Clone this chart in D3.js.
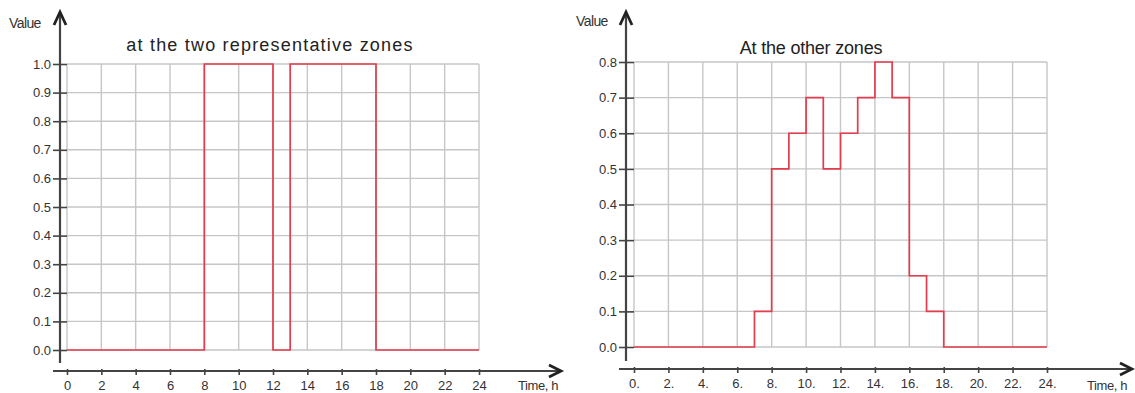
<!DOCTYPE html>
<html>
<head>
<meta charset="utf-8">
<script src="https://cdn.jsdelivr.net/npm/d3@7"></script>
<style>
  body { margin: 0; background: #fff; }
  svg { display: block; }
  text { font-family: "Liberation Sans", Arial, sans-serif; fill: #333; }
</style>
</head>
<body>
<div id="chart"></div>
<script>
// data (step functions, value holds until next hour)
var leftHours = [0, 8, 12, 13, 18, 24];
var leftValues = [0, 1, 0, 1, 0, 0];
var rightHours = [0, 7, 8, 9, 10, 11, 12, 13, 14, 15, 16, 17, 18, 24];
var rightValues = [0, 0.1, 0.5, 0.6, 0.7, 0.5, 0.6, 0.7, 0.8, 0.7, 0.2, 0.1, 0, 0];
var xTicks = [0, 2, 4, 6, 8, 10, 12, 14, 16, 18, 20, 22, 24];
var leftYTicks = [0, 0.1, 0.2, 0.3, 0.4, 0.5, 0.6, 0.7, 0.8, 0.9, 1.0];
var rightYTicks = [0, 0.1, 0.2, 0.3, 0.4, 0.5, 0.6, 0.7, 0.8];
var leftTitle = "at the two representative zones";
var rightTitle = "At the other zones";

var W = 1135, H = 393;
var svg = d3.select("#chart").append("svg").attr("width", W).attr("height", H);

var panels = [
  {hours: leftHours, values: leftValues, yTicks: leftYTicks, yMax: 1.0, title: leftTitle,
   x0: 67, x1: 479, y0: 350, y1: 64, axisX: 60, axisY: 371, arrowEnd: 561,
   titleX: 270, titleY: 51, titleSpacing: 1.2, titleSize: 18, valueX: 9, valueY: 28, timeX: 518, dot: ""},
  {hours: rightHours, values: rightValues, yTicks: rightYTicks, yMax: 0.8, title: rightTitle,
   x0: 634, x1: 1047, y0: 347, y1: 62, axisX: 626, axisY: 369, arrowEnd: 1132,
   titleX: 811, titleY: 54, titleSpacing: -0.2, titleSize: 18, valueX: 576, valueY: 26, timeX: 1087, dot: "."}
];

panels.forEach(function(p){
  var x = d3.scaleLinear().domain([0, 24]).range([p.x0, p.x1]);
  var y = d3.scaleLinear().domain([0, p.yMax]).range([p.y0, p.y1]);
  var g = svg.append("g");

  // grid
  g.selectAll(".vg").data(xTicks).enter().append("line")
    .attr("x1", function(d){ return x(d); }).attr("x2", function(d){ return x(d); })
    .attr("y1", p.y1).attr("y2", p.y0)
    .style("stroke", "#c6c6c6").style("stroke-width", 1.4);
  g.selectAll(".hg").data(p.yTicks).enter().append("line")
    .attr("x1", p.x0).attr("x2", p.x1)
    .attr("y1", function(d){ return y(d); }).attr("y2", function(d){ return y(d); })
    .style("stroke", "#c6c6c6").style("stroke-width", 1.4);

  // y axis with ticks
  var yAxis = d3.axisLeft(y).tickValues(p.yTicks).tickSize(p.x0 - p.axisX + 7)
    .tickFormat(d3.format(".1f")).tickPadding(2);
  var ya = g.append("g").attr("transform", "translate(" + p.x0 + ",0)").call(yAxis);
  ya.select(".domain").remove();
  ya.selectAll(".tick line").style("stroke", "#444").style("stroke-width", 1.6);
  ya.selectAll(".tick text").style("font-size", "13px").style("fill", "#333");

  g.append("line").attr("x1", p.axisX).attr("x2", p.axisX)
    .attr("y1", 13).attr("y2", p.axisY - 8)
    .style("stroke", "#444").style("stroke-width", 2.2);
  g.append("path")
    .attr("d", "M" + (p.axisX - 6) + ",25 L" + p.axisX + ",12 L" + (p.axisX + 6) + ",25")
    .style("fill", "none").style("stroke", "#222").style("stroke-width", 2.8);

  // x axis with ticks
  var xAxis = d3.axisBottom(x).tickValues(xTicks).tickSize(6)
    .tickFormat(function(d){ return d + p.dot; }).tickPadding(6);
  var xa = g.append("g").attr("transform", "translate(0," + (p.axisY - 2) + ")").call(xAxis);
  xa.select(".domain").remove();
  xa.selectAll(".tick line").style("stroke", "#444").style("stroke-width", 1.6);
  xa.selectAll(".tick text").style("font-size", "13px").style("fill", "#333");

  g.append("line").attr("x1", p.axisX - 7).attr("x2", p.arrowEnd)
    .attr("y1", p.axisY).attr("y2", p.axisY)
    .style("stroke", "#444").style("stroke-width", 2.2);
  g.append("path")
    .attr("d", "M" + (p.arrowEnd - 12) + "," + (p.axisY - 6) + " L" + p.arrowEnd + "," + p.axisY +
      " L" + (p.arrowEnd - 12) + "," + (p.axisY + 6))
    .style("fill", "none").style("stroke", "#222").style("stroke-width", 2.8);

  // labels
  g.append("text").attr("x", p.valueX).attr("y", p.valueY).text("Value")
    .style("font-size", "14px").style("letter-spacing", "-0.6px");
  g.append("text").attr("x", p.timeX).attr("y", 390).text("Time, h")
    .style("font-size", "13px").style("letter-spacing", "-0.4px");
  g.append("text").attr("x", p.titleX).attr("y", p.titleY).attr("text-anchor", "middle")
    .text(p.title).style("font-size", p.titleSize + "px").style("fill", "#222")
    .style("letter-spacing", p.titleSpacing + "px");

  // step line
  var line = d3.line()
    .x(function(d, i){ return x(p.hours[i]); })
    .y(function(d){ return y(d); })
    .curve(d3.curveStepAfter);
  g.append("path").datum(p.values).attr("d", line)
    .style("fill", "none").style("stroke", "#e43c4c").style("stroke-width", 1.7);
});
</script>
</body>
</html>
